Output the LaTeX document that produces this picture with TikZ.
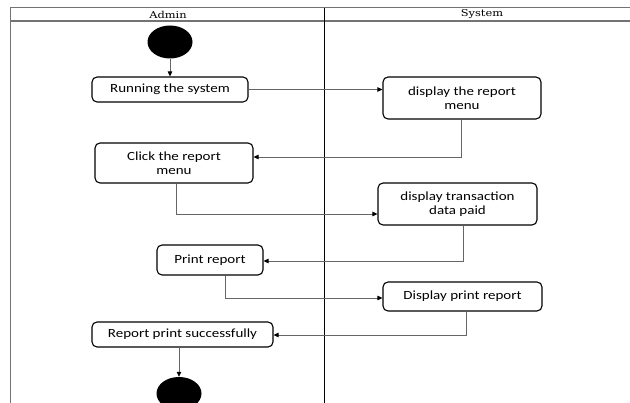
\documentclass[tikz,border=0pt]{standalone}
\usepackage{fontspec}
\setmainfont{Carlito}[FakeStretch=1.2]
\newfontfamily\headfont{DejaVu Serif}[FakeStretch=1.2]
\usetikzlibrary{arrows.meta}
\tikzset{
  act/.style={draw=black, line width=1.1pt, rounded corners=5pt, inner sep=0pt,
    align=center, font=\fontsize{12.5}{14}\selectfont},
  conn/.style={draw=black!60, line width=0.8pt, -{Triangle[length=5pt,width=4.5pt,color=black]}},
  lane/.style={draw=black!55, line width=1pt},
  divider/.style={draw=black, line width=0.9pt},
  lanehead/.style={font=\headfont\fontsize{9.5}{10}\selectfont, inner sep=0pt},
  dot/.style={ellipse, fill=black, minimum width=45pt, minimum height=33pt, inner sep=0pt}
}
\usetikzlibrary{shapes.geometric}
\begin{document}
\begin{tikzpicture}[x=1pt,y=-1pt]
\useasboundingbox (0,0) rectangle (630,403);
\clip (0,0) rectangle (630,403);
\fill[white] (0,0) rectangle (630,403);
% swimlanes
\draw[lane] (10,8) -- (630,8);
\draw[lane, line width=1.3pt] (10,21) -- (630,21);
\draw[lane] (10,8) -- (10,403);
\draw[divider] (324,8) -- (324,403);
\node[lanehead] (adminh) at (168,14.5) {Admin};
\node[lanehead] (systemh) at (482,14.5) {System};
% nodes
\node[dot] (start) at (170,42) {};
\node[act, minimum width=156pt, minimum height=25pt] (run) at (170,89.5) {Running the system};
\node[act, minimum width=158pt, minimum height=42pt] (disp1) at (462,98) {display the report\\menu};
\node[act, minimum width=158pt, minimum height=40pt] (click) at (174,163) {Click the report\\menu};
\node[act, minimum width=159pt, minimum height=42pt] (trans) at (457.5,204) {display transaction\\data paid};
\node[act, minimum width=106pt, minimum height=30pt] (print) at (210,260) {Print report};
\node[act, minimum width=159pt, minimum height=29pt] (dprint) at (462.5,296.5) {Display print report};
\node[act, minimum width=181pt, minimum height=25pt] (report) at (182.5,334.5) {Report print successfully};
\node[dot] (end) at (179,393.5) {};
% connectors
\draw[conn] (start) -- (run);
\draw[conn] (run.east) -- (run.east -| disp1.west);
\draw[conn] ([xshift=-1pt]disp1.south) |- ([yshift=6pt]click.east);
\draw[conn] ([xshift=2pt]click.south) |- ([yshift=-10pt]trans.west);
\draw[conn] ([xshift=5.5pt]trans.south) |- ([yshift=-1pt]print.east);
\draw[conn] ([xshift=15pt]print.south) |- ([yshift=-1.5pt]dprint.west);
\draw[conn] ([xshift=3.5pt]dprint.south) |- ([yshift=-0.5pt]report.east);
\draw[conn] ([xshift=-3.5pt]report.south) -- ([xshift=-3.5pt]report.south |- end.north);
\end{tikzpicture}
\end{document}
